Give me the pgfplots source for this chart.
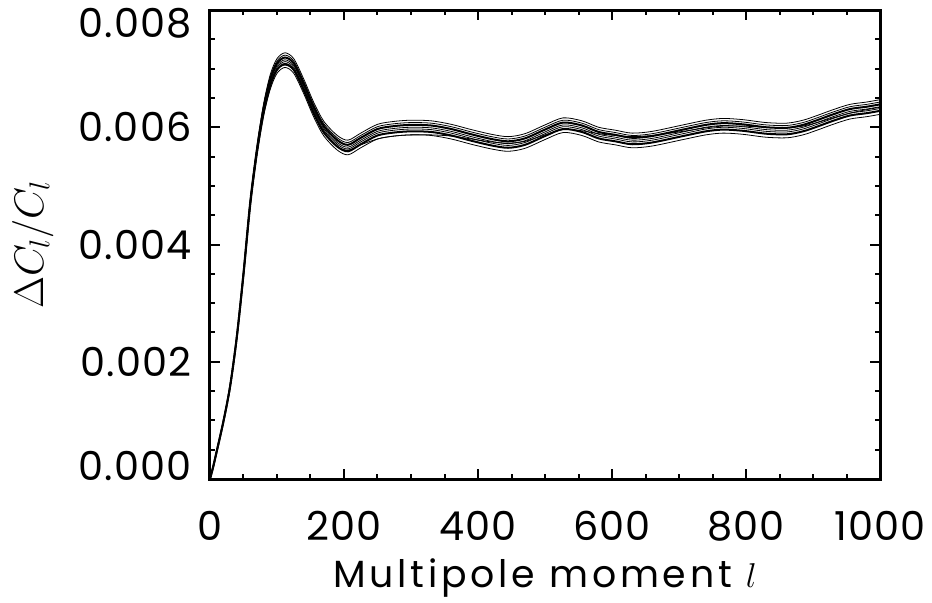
\documentclass[border=0pt]{standalone}
\usepackage{fontspec}
\setmainfont{Poppins}
\usepackage{pgfplots}
\usepackage{pgfplotstable}
\pgfplotsset{compat=1.18}
\pgfplotstableread{
l c1 c2 c3 c4 c5 c6 c7 c8
0 0 0 0 0 0 0 0 0
5 0.22 0.22 0.22 0.22 0.22 0.22 0.22 0.22
10 0.47 0.47 0.47 0.47 0.47 0.47 0.47 0.47
20 0.98 0.98 0.98 0.98 0.98 0.98 0.98 0.98
30 1.58 1.58 1.58 1.58 1.58 1.58 1.58 1.58
40 2.42 2.42 2.42 2.42 2.42 2.42 2.42 2.42
50 3.52 3.52 3.51 3.50 3.49 3.49 3.47 3.49
60 4.75 4.73 4.72 4.70 4.69 4.67 4.65 4.67
70 5.67 5.65 5.62 5.60 5.58 5.56 5.52 5.56
80 6.40 6.36 6.33 6.30 6.28 6.24 6.20 6.24
90 6.90 6.86 6.82 6.78 6.75 6.71 6.65 6.71
100 7.17 7.13 7.09 7.05 7.02 6.98 6.92 6.98
112 7.27 7.23 7.19 7.15 7.12 7.08 7.02 7.06
125 7.17 7.13 7.09 7.05 7.02 6.98 6.92 6.97
140 6.82 6.78 6.74 6.70 6.67 6.63 6.57 6.62
155 6.42 6.38 6.34 6.30 6.27 6.23 6.17 6.22
170 6.10 6.06 6.02 5.98 5.95 5.91 5.85 5.90
190 5.86 5.82 5.78 5.74 5.71 5.67 5.61 5.67
206 5.78 5.74 5.70 5.66 5.63 5.59 5.53 5.61
225 5.90 5.86 5.82 5.78 5.75 5.71 5.65 5.70
250 6.05 6.01 5.97 5.93 5.90 5.86 5.80 5.80
275 6.10 6.06 6.02 5.98 5.95 5.91 5.85 5.85
300 6.12 6.08 6.04 6.00 5.97 5.93 5.87 5.87
330 6.11 6.07 6.03 5.99 5.96 5.92 5.86 5.87
360 6.05 6.01 5.97 5.93 5.90 5.86 5.80 5.85
390 5.96 5.92 5.88 5.84 5.81 5.77 5.71 5.80
420 5.88 5.84 5.80 5.76 5.73 5.69 5.63 5.75
445 5.84 5.80 5.76 5.72 5.69 5.65 5.59 5.73
470 5.89 5.85 5.81 5.77 5.74 5.70 5.64 5.76
500 6.04 6.00 5.96 5.92 5.89 5.85 5.79 5.87
527 6.16 6.12 6.08 6.04 6.01 5.97 5.91 5.96
555 6.11 6.07 6.03 5.99 5.96 5.92 5.86 5.94
580 6.00 5.96 5.92 5.88 5.85 5.81 5.75 5.89
605 5.95 5.91 5.87 5.83 5.80 5.76 5.70 5.86
630 5.90 5.86 5.82 5.78 5.75 5.71 5.65 5.84
660 5.93 5.89 5.85 5.81 5.78 5.74 5.68 5.86
706 6.04 6.00 5.96 5.92 5.89 5.85 5.79 5.93
740 6.12 6.08 6.04 6.00 5.97 5.93 5.87 5.99
766 6.15 6.11 6.07 6.03 6.00 5.96 5.90 6.02
795 6.13 6.09 6.05 6.01 5.98 5.94 5.88 6.02
830 6.08 6.04 6.00 5.96 5.93 5.89 5.83 6.00
861 6.07 6.03 5.99 5.95 5.92 5.88 5.82 5.99
885 6.12 6.08 6.04 6.00 5.97 5.93 5.87 6.02
906 6.20 6.16 6.12 6.08 6.05 6.01 5.95 6.08
930 6.30 6.26 6.22 6.18 6.15 6.11 6.05 6.16
955 6.39 6.35 6.31 6.27 6.24 6.20 6.14 6.24
980 6.43 6.39 6.35 6.31 6.28 6.24 6.18 6.30
1000 6.47 6.43 6.39 6.35 6.32 6.28 6.22 6.34
}\spectra
\begin{document}
\begin{tikzpicture}
\begin{axis}[
  name=ax,
  scale only axis,
  width=335bp, height=234.5bp,
  xmin=0, xmax=1000, ymin=0, ymax=8,
  xtick={0,200,400,600,800,1000},
  xticklabels={0,200,400,600,800,1000},
  ytick={0,2,4,6,8},
  yticklabels={0.000,0.002,0.004,0.006,0.008},
  minor x tick num=3,
  minor y tick num=3,
  tick align=inside,
  major tick length=5bp,
  minor tick length=2.5bp,
  axis line style={line width=1.5bp},
  every tick/.style={black, line width=1bp},
  tick label style={font=\fontsize{20}{22}\selectfont\addfontfeatures{LetterSpace=3}},
  xticklabel style={anchor=base, yshift=-30.5bp},
  yticklabel style={anchor=east, inner sep=0pt, xshift=-9bp,
     yshift={(\ticknum==0)*6.5-(\ticknum==4)*6.75}},
  xlabel={Multipole moment $l$},
  xlabel style={font=\fontsize{19}{20}\selectfont\addfontfeatures{LetterSpace=10}, at={(axis description cs:0.5,0)}, anchor=base, yshift=-54bp},
  ylabel={$\Delta C_l/C_l$},
  ylabel style={font=\fontsize{20}{22}\selectfont, at={(axis description cs:-0.249,0.5)}, anchor=base},
  cycle list={{black, solid, line width=1bp}},
  every axis plot/.append style={smooth, tension=0.5, no markers},
]
\addplot table[x=l, y=c1] {\spectra};
\addplot table[x=l, y=c2] {\spectra};
\addplot table[x=l, y=c3] {\spectra};
\addplot table[x=l, y=c4] {\spectra};
\addplot table[x=l, y=c5] {\spectra};
\addplot table[x=l, y=c6] {\spectra};
\addplot table[x=l, y=c7] {\spectra};
\addplot table[x=l, y=c8] {\spectra};
\end{axis}
\pgfresetboundingbox
\path[use as bounding box] ([xshift=-105bp,yshift=-62bp]ax.south west) rectangle ([xshift=26bp,yshift=5bp]ax.north east);
\end{tikzpicture}
\end{document}
